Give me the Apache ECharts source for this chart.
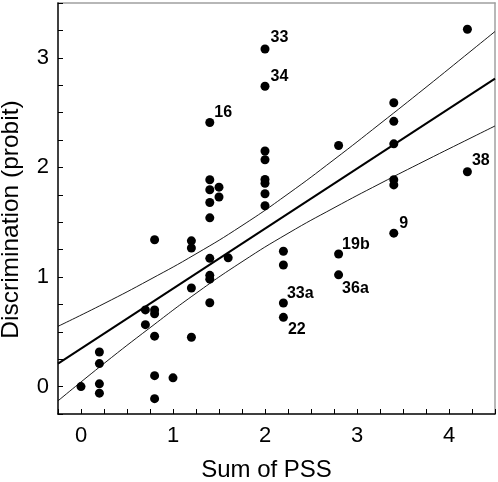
<!DOCTYPE html>
<html>
<head>
<meta charset="utf-8">
<script src="https://cdn.jsdelivr.net/npm/echarts@6/dist/echarts.min.js"></script>
<style>
html,body{margin:0;padding:0;background:#fff;}
#chart{width:498px;height:482px;}
</style>
</head>
<body>
<div id="chart"></div>
<script>
// ---- data ----
var pointX = [
  0.0,
  0.2, 0.2, 0.2, 0.2,
  0.7, 0.7,
  0.8, 0.8, 0.8, 0.8, 0.8, 0.8,
  1.0,
  1.2, 1.2, 1.2, 1.2,
  1.4, 1.4, 1.4, 1.4, 1.4, 1.4, 1.4, 1.4, 1.4,
  1.5, 1.5,
  1.6,
  2.0, 2.0, 2.0, 2.0, 2.0, 2.0, 2.0, 2.0,
  2.2, 2.2, 2.2, 2.2,
  2.8, 2.8, 2.8,
  3.4, 3.4, 3.4, 3.4, 3.4, 3.4,
  4.2, 4.2
];
var pointY = [
  0.0,
  0.316, 0.21, 0.025, -0.06,
  0.70, 0.565,
  0.70, 0.665, 0.46, 0.10, -0.11, 1.34,
  0.08,
  1.33, 1.265, 0.90, 0.45,
  2.41, 1.887, 1.796, 1.68, 1.54, 1.17, 1.015, 0.98, 0.765,
  1.82, 1.73,
  1.175,
  3.08, 2.74, 2.15, 2.07, 1.89, 1.855, 1.76, 1.65,
  1.235, 1.11, 0.763, 0.632,
  2.20, 1.21, 1.02,
  2.59, 2.42, 2.215, 1.887, 1.84, 1.40,
  3.26, 1.96
];
var pointLabel = [
  '',
  '', '', '', '',
  '', '',
  '', '', '', '', '', '',
  '',
  '', '', '', '',
  '16', '', '', '', '', '', '', '', '',
  '', '',
  '',
  '33', '34', '', '', '', '', '', '',
  '', '', '33a', '22',
  '', '19b', '36a',
  '', '', '', '', '', '9',
  '', '38'
];
// regression line endpoints
var fitX = [-0.25, 4.5];
var fitY = [0.21, 2.81];
// confidence band curves
var bandX =     [-0.25, 0.25, 0.75, 1.25, 1.75, 2.25, 2.75, 3.25, 3.75, 4.25, 4.5];
var upperY =    [0.55, 0.757, 0.977, 1.211, 1.469, 1.758, 2.071, 2.398, 2.731, 3.07, 3.24];
var lowerY =    [-0.13, 0.211, 0.537, 0.851, 1.139, 1.398, 1.631, 1.852, 2.065, 2.274, 2.378];
var xTickLabels = ['0', '1', '2', '3', '4'];
var yTickLabels = ['0', '1', '2', '3'];

// ---- label placement (style, not data) ----
var labelOffset = {
  '33': [1, -11], '34': [1, -10], '16': [0, -10], '38': [0, -11.5],
  '9': [1, -9.5], '19b': [-1, -9.5], '36a': [-1, 13.5], '33a': [-1, -9.5], '22': [0, 12]
};

var FONT = 'Liberation Sans, Arial, sans-serif';
var X_MIN = -0.25, X_MAX = 4.5, Y_MIN = -0.25, Y_MAX = 3.5, STEP = 0.25;

function pairs(xs, ys) {
  return xs.map(function (x, i) { return [x, ys[i]]; });
}

var scatterData = pointX.map(function (x, i) {
  var item = { value: [x, pointY[i]] };
  var lb = pointLabel[i];
  if (lb) {
    item.label = {
      show: true,
      formatter: lb,
      position: 'right',
      distance: 0,
      offset: labelOffset[lb] || [0, -10]
    };
  }
  return item;
});

function tickFormatter(labels) {
  return function (v) {
    var r = Math.round(v);
    if (Math.abs(v - r) < 1e-6 && labels.indexOf(String(r)) >= 0) return String(r);
    return '';
  };
}

var frameAxisLine = { show: true, onZero: false, lineStyle: { color: '#a0a0a0', width: 1.5 } };

var chart = echarts.init(document.getElementById('chart'), null, { renderer: 'canvas' });
chart.setOption({
  animation: false,
  backgroundColor: '#fff',
  grid: { left: 58, right: 3, top: 3, bottom: 68, show: false, containLabel: false, outerBoundsMode: 'none' },
  xAxis: [{
    type: 'value', min: X_MIN, max: X_MAX, interval: STEP, position: 'bottom',
    name: 'Sum of PSS', nameLocation: 'middle', nameGap: 44,
    nameTextStyle: { fontFamily: FONT, fontSize: 24, color: '#000', padding: [0, 20, 0, 0] },
    axisLine: { show: true, onZero: false, lineStyle: { color: '#000', width: 1.5 } },
    axisTick: { show: true, inside: true, length: 5, lineStyle: { color: '#000', width: 1 } },
    axisLabel: { fontFamily: FONT, fontSize: 22, color: '#000', margin: 11, formatter: tickFormatter(xTickLabels), showMinLabel: true, showMaxLabel: true },
    splitLine: { show: false }, z: 5
  }, {
    type: 'value', min: X_MIN, max: X_MAX, interval: STEP, position: 'top',
    axisLine: frameAxisLine, axisTick: { show: false }, axisLabel: { show: false }, splitLine: { show: false }
  }],
  yAxis: [{
    type: 'value', min: Y_MIN, max: Y_MAX, interval: STEP, position: 'left',
    name: 'Discrimination (probit)', nameLocation: 'middle', nameGap: 34,
    nameTextStyle: { fontFamily: FONT, fontSize: 24.5, color: '#000', padding: [0, 22, 0, 0] },
    axisLine: { show: true, onZero: false, lineStyle: { color: '#000', width: 1.5 } },
    axisTick: { show: true, inside: true, length: 5, lineStyle: { color: '#000', width: 1 } },
    axisLabel: { fontFamily: FONT, fontSize: 22, color: '#000', margin: 9, formatter: tickFormatter(yTickLabels), showMinLabel: true, showMaxLabel: true },
    splitLine: { show: false }, z: 5
  }, {
    type: 'value', min: Y_MIN, max: Y_MAX, interval: STEP, position: 'right',
    axisLine: frameAxisLine, axisTick: { show: false }, axisLabel: { show: false }, splitLine: { show: false }
  }],
  series: [
    {
      type: 'line', data: pairs(bandX, upperY), smooth: true, showSymbol: false, silent: true,
      lineStyle: { color: '#000', width: 0.9 }, z: 2
    },
    {
      type: 'line', data: pairs(bandX, lowerY), smooth: true, showSymbol: false, silent: true,
      lineStyle: { color: '#000', width: 0.9 }, z: 2
    },
    {
      type: 'line', data: pairs(fitX, fitY), showSymbol: false, silent: true,
      lineStyle: { color: '#000', width: 2 }, z: 3
    },
    {
      type: 'scatter', data: scatterData, symbol: 'circle', symbolSize: 9,
      itemStyle: { color: '#000', opacity: 1 }, z: 4,
      label: { show: false, fontFamily: FONT, fontSize: 16, fontWeight: 'bold', color: '#000', opacity: 1 }
    }
  ]
});
</script>
</body>
</html>
